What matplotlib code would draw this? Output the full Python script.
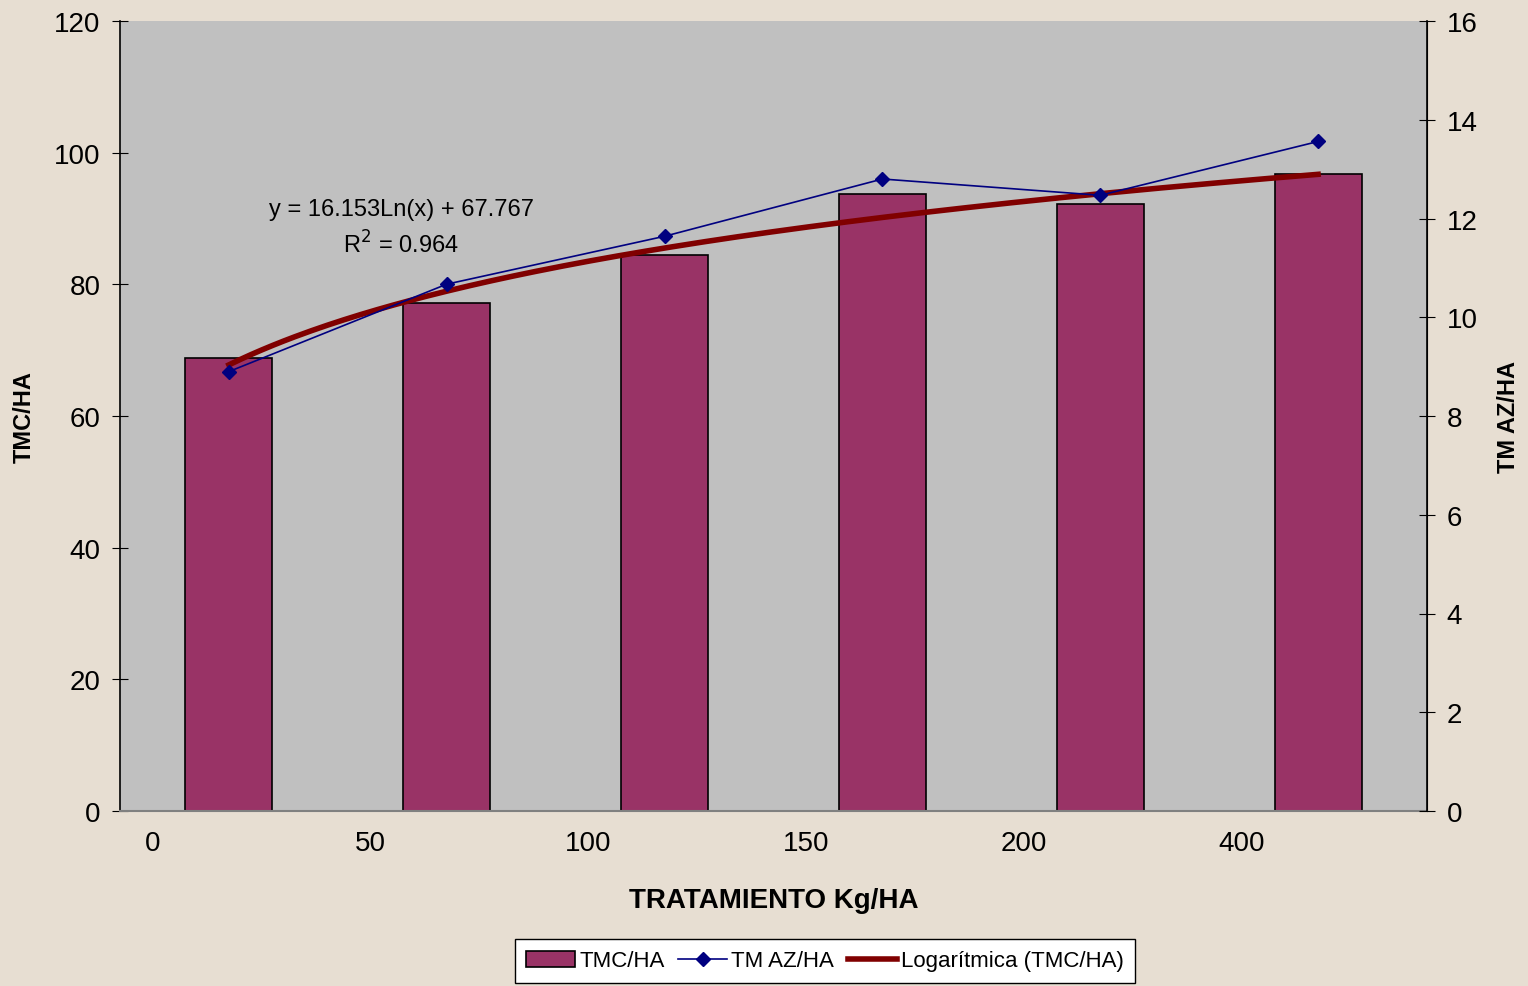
import numpy as np
import matplotlib.pyplot as plt

plt.rcParams['font.family'] = ['Liberation Sans', 'DejaVu Sans']

# data
tratamiento = ['0', '50', '100', '150', '200', '400']
tmc_ha = [68.8, 77.1, 84.5, 93.7, 92.2, 96.8]
tm_az_ha = [8.9, 10.67, 11.64, 12.8, 12.47, 13.56]
# Excel log trendline shown in the chart
coef_a, coef_b = 16.153, 67.767

bg = '#e7ded2'
fig = plt.figure(figsize=(15.28, 9.87), dpi=100, facecolor=bg)
ax = fig.add_axes([120 / 1528, 1 - 812 / 987, 1307 / 1528, 790 / 987])
ax.set_facecolor('#c0c0c0')

x = np.arange(len(tratamiento))
bars = ax.bar(x, tmc_ha, width=0.4, color='#993366', edgecolor='black',
              linewidth=1.2, label='TMC/HA', zorder=2)

# trendline over category index 1..n
xs = np.linspace(1, len(tratamiento), 200)
trend, = ax.plot(xs - 1, coef_a * np.log(xs) + coef_b, color='#800000',
                 linewidth=4, label='Logarítmica (TMC/HA)', zorder=3)

ax.set_xlim(-0.5, len(tratamiento) - 0.5)
ax.set_ylim(0, 120)
ax.set_yticks(range(0, 121, 20))
ax.set_xticks(x - 0.35)
ax.set_xticklabels(tratamiento)
ax.tick_params(axis='x', length=0, labelsize=20, pad=14)
ax.tick_params(axis='y', direction='inout', length=12, labelsize=20, pad=8)
ax.set_xlabel('TRATAMIENTO Kg/HA', fontsize=20, fontweight='bold', labelpad=22)
ax.set_ylabel('TMC/HA', fontsize=17, fontweight='bold')
ax.yaxis.set_label_coords(-84 / 1307, 0.5)

ax.spines['top'].set_visible(False)
ax.spines['bottom'].set_color('#808080')
ax.spines['bottom'].set_linewidth(1.5)
ax.spines['left'].set_linewidth(1.2)

ax2 = ax.twinx()
line, = ax2.plot(x, tm_az_ha, color='#000080', linewidth=1.2, marker='D',
                 markersize=7, label='TM AZ/HA', zorder=4)
ax2.set_ylim(0, 16)
ax2.set_yticks(range(0, 17, 2))
ax2.tick_params(axis='y', direction='inout', length=12, labelsize=20, pad=8)
ax2.set_ylabel('TM AZ/HA', fontsize=17, fontweight='bold')
ax2.yaxis.set_label_coords(1 + 70 / 1307, 0.5)
ax2.spines['top'].set_visible(False)
ax2.spines['bottom'].set_visible(False)
ax2.spines['left'].set_visible(False)
ax2.spines['right'].set_linewidth(1.2)

ax.text(0.79, 91.5, 'y = 16.153Ln(x) + 67.767', fontsize=17, ha='center', va='center')
ax.text(0.79, 86.2, 'R$^2$ = 0.964', fontsize=17, ha='center', va='center')

leg = fig.legend([bars, line, trend], ['TMC/HA', 'TM AZ/HA', 'Logarítmica (TMC/HA)'],
                 loc='center', bbox_to_anchor=(825 / 1528, 1 - 962 / 987), ncol=3,
                 fontsize=16, frameon=True, fancybox=False, edgecolor='black',
                 facecolor='white', framealpha=1,
                 handlelength=2.2, handletextpad=0.2, columnspacing=0.6,
                 borderpad=0.5)
leg.get_frame().set_linewidth(1.0)

fig.savefig('out.png', dpi=100, facecolor=bg)
